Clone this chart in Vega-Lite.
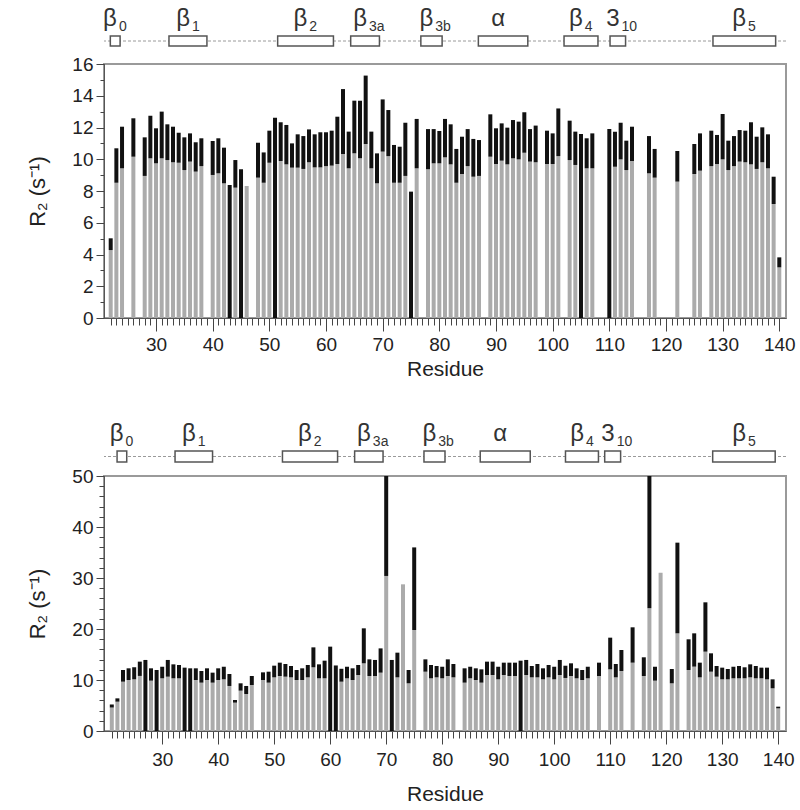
{
  "$schema": "https://vega.github.io/schema/vega-lite/v6.json",
  "padding": {"left": 25, "top": 6, "right": 0, "bottom": 0},
  "config": {
    "font": "Liberation Sans",
    "view": {"stroke": "#9a9a9a", "strokeWidth": 2},
    "axis": {"grid": false, "labelColor": "#222", "titleColor": "#222", "tickColor": "#444", "domainColor": "#555", "titleFontWeight": "normal", "labelFont": "Liberation Sans", "titleFont": "Liberation Sans"}
  },
  "datasets": {
    "ssTop": [
      {"name": "β", "sub": "0", "start": 22.8, "end": 24.5, "center": 23.6},
      {"name": "β", "sub": "1", "start": 33.0, "end": 39.6, "center": 36.3},
      {"name": "β", "sub": "2", "start": 51.9, "end": 61.6, "center": 56.7},
      {"name": "β", "sub": "3a", "start": 64.6, "end": 69.6, "center": 67.1},
      {"name": "β", "sub": "3b", "start": 76.8, "end": 80.5, "center": 78.6},
      {"name": "α", "sub": "", "start": 86.8, "end": 95.4, "center": 91.1},
      {"name": "β", "sub": "4", "start": 101.7, "end": 107.6, "center": 104.6},
      {"name": "3", "sub": "10", "start": 109.7, "end": 112.4, "center": 111.0},
      {"name": "β", "sub": "5", "start": 127.6, "end": 138.5, "center": 133.0}
    ],
    "ssBottom": [
      {"name": "β", "sub": "0", "start": 22.8, "end": 24.5, "center": 23.6},
      {"name": "β", "sub": "1", "start": 33.0, "end": 39.6, "center": 36.3},
      {"name": "β", "sub": "2", "start": 51.9, "end": 61.6, "center": 56.7},
      {"name": "β", "sub": "3a", "start": 64.6, "end": 69.6, "center": 67.1},
      {"name": "β", "sub": "3b", "start": 76.8, "end": 80.5, "center": 78.6},
      {"name": "α", "sub": "", "start": 86.7, "end": 95.5, "center": 91.1},
      {"name": "β", "sub": "4", "start": 101.7, "end": 107.5, "center": 104.6},
      {"name": "3", "sub": "10", "start": 108.6, "end": 111.4, "center": 110.0},
      {"name": "β", "sub": "5", "start": 127.6, "end": 138.6, "center": 133.1}
    ],
    "top": [
      {"residue": 22, "low": 4.28, "high": 5.02},
      {"residue": 23, "low": 8.52, "high": 10.69},
      {"residue": 24, "low": 9.43, "high": 12.05},
      {"residue": 26, "low": 10.16, "high": 12.58},
      {"residue": 28, "low": 8.95, "high": 11.38},
      {"residue": 29, "low": 10.06, "high": 12.74},
      {"residue": 30, "low": 9.74, "high": 11.95},
      {"residue": 31, "low": 10.06, "high": 13.0},
      {"residue": 32, "low": 9.95, "high": 12.2},
      {"residue": 33, "low": 9.81, "high": 12.05},
      {"residue": 34, "low": 9.78, "high": 11.67},
      {"residue": 35, "low": 9.32, "high": 11.38},
      {"residue": 36, "low": 9.85, "high": 11.63},
      {"residue": 37, "low": 9.22, "high": 11.07},
      {"residue": 38, "low": 9.57, "high": 11.32},
      {"residue": 40, "low": 9.01, "high": 11.15},
      {"residue": 41, "low": 9.11, "high": 11.32},
      {"residue": 42, "low": 8.48, "high": 10.73},
      {"residue": 43, "low": 0, "high": 8.38},
      {"residue": 44, "low": 8.21, "high": 9.95},
      {"residue": 45, "low": 0, "high": 9.37},
      {"residue": 46, "low": 8.31, "high": 8.31},
      {"residue": 48, "low": 8.84, "high": 11.04},
      {"residue": 49, "low": 8.52, "high": 10.43},
      {"residue": 50, "low": 9.78, "high": 11.8},
      {"residue": 51, "low": 0, "high": 12.62},
      {"residue": 52, "low": 9.89, "high": 12.33},
      {"residue": 53, "low": 9.68, "high": 12.16},
      {"residue": 54, "low": 9.47, "high": 11.0},
      {"residue": 55, "low": 9.47, "high": 11.57},
      {"residue": 56, "low": 9.39, "high": 11.46},
      {"residue": 57, "low": 9.81, "high": 11.88},
      {"residue": 58, "low": 9.49, "high": 11.57},
      {"residue": 59, "low": 9.49, "high": 11.7},
      {"residue": 60, "low": 9.57, "high": 11.7},
      {"residue": 61, "low": 9.6, "high": 11.8},
      {"residue": 62, "low": 9.7, "high": 12.68},
      {"residue": 63, "low": 10.33, "high": 14.42},
      {"residue": 64, "low": 9.43, "high": 11.74},
      {"residue": 65, "low": 10.37, "high": 13.69},
      {"residue": 66, "low": 10.06, "high": 13.69},
      {"residue": 67, "low": 10.96, "high": 15.27},
      {"residue": 68, "low": 9.43, "high": 11.74},
      {"residue": 69, "low": 8.48, "high": 10.37},
      {"residue": 70, "low": 10.48, "high": 13.77},
      {"residue": 71, "low": 10.2, "high": 13.1},
      {"residue": 72, "low": 8.52, "high": 10.9},
      {"residue": 73, "low": 8.52, "high": 10.79},
      {"residue": 74, "low": 8.95, "high": 12.3},
      {"residue": 75, "low": 0, "high": 7.96},
      {"residue": 76, "low": 9.43, "high": 12.54},
      {"residue": 78, "low": 9.37, "high": 11.9},
      {"residue": 79, "low": 9.74, "high": 11.9},
      {"residue": 80, "low": 9.74, "high": 11.78},
      {"residue": 81, "low": 10.12, "high": 12.54},
      {"residue": 82, "low": 9.68, "high": 12.2},
      {"residue": 83, "low": 8.52, "high": 10.65},
      {"residue": 84, "low": 9.07, "high": 11.42},
      {"residue": 85, "low": 9.57, "high": 11.9},
      {"residue": 86, "low": 8.9, "high": 11.28},
      {"residue": 87, "low": 8.95, "high": 11.21},
      {"residue": 89, "low": 10.16, "high": 12.83},
      {"residue": 90, "low": 9.7, "high": 11.95},
      {"residue": 91, "low": 9.91, "high": 12.26},
      {"residue": 92, "low": 9.68, "high": 11.99},
      {"residue": 93, "low": 10.06, "high": 12.47},
      {"residue": 94, "low": 9.99, "high": 12.37},
      {"residue": 95, "low": 10.41, "high": 12.96},
      {"residue": 96, "low": 9.85, "high": 11.9},
      {"residue": 97, "low": 9.81, "high": 12.12},
      {"residue": 99, "low": 9.7, "high": 11.8},
      {"residue": 100, "low": 9.7, "high": 11.63},
      {"residue": 101, "low": 10.2, "high": 13.2},
      {"residue": 103, "low": 9.95, "high": 12.43},
      {"residue": 104, "low": 9.64, "high": 11.74},
      {"residue": 105, "low": 0, "high": 11.59},
      {"residue": 106, "low": 9.43, "high": 11.32},
      {"residue": 107, "low": 9.43, "high": 11.63},
      {"residue": 110, "low": 0, "high": 11.9},
      {"residue": 111, "low": 9.53, "high": 11.74},
      {"residue": 112, "low": 9.99, "high": 12.3},
      {"residue": 113, "low": 9.32, "high": 11.17},
      {"residue": 114, "low": 9.89, "high": 12.05},
      {"residue": 117, "low": 9.11, "high": 11.46},
      {"residue": 118, "low": 8.84, "high": 10.65},
      {"residue": 122, "low": 8.59, "high": 10.52},
      {"residue": 125, "low": 9.07, "high": 10.96},
      {"residue": 126, "low": 9.28, "high": 11.63},
      {"residue": 128, "low": 9.57, "high": 11.8},
      {"residue": 129, "low": 9.7, "high": 11.53},
      {"residue": 130, "low": 9.99, "high": 12.85},
      {"residue": 131, "low": 9.32, "high": 11.17},
      {"residue": 132, "low": 9.57, "high": 11.46},
      {"residue": 133, "low": 9.85, "high": 11.84},
      {"residue": 134, "low": 9.81, "high": 11.8},
      {"residue": 135, "low": 9.68, "high": 12.33},
      {"residue": 136, "low": 9.39, "high": 11.42},
      {"residue": 137, "low": 9.81, "high": 12.01},
      {"residue": 138, "low": 9.43, "high": 11.57},
      {"residue": 139, "low": 7.18, "high": 8.9},
      {"residue": 140, "low": 3.19, "high": 3.82}
    ],
    "bottom": [
      {"residue": 21, "low": 4.6, "high": 5.2},
      {"residue": 22, "low": 5.75, "high": 6.4},
      {"residue": 23, "low": 9.67, "high": 11.96},
      {"residue": 24, "low": 10.0, "high": 12.29},
      {"residue": 25, "low": 10.13, "high": 12.5},
      {"residue": 26, "low": 10.8, "high": 13.6},
      {"residue": 27, "low": 0, "high": 13.93},
      {"residue": 28, "low": 9.87, "high": 12.29},
      {"residue": 29, "low": 0, "high": 11.96},
      {"residue": 30, "low": 10.33, "high": 12.6},
      {"residue": 31, "low": 10.65, "high": 13.93},
      {"residue": 32, "low": 10.33, "high": 13.07},
      {"residue": 33, "low": 10.33, "high": 12.94},
      {"residue": 34, "low": 0, "high": 12.42},
      {"residue": 35, "low": 0, "high": 12.29},
      {"residue": 36, "low": 10.0, "high": 12.29},
      {"residue": 37, "low": 9.48, "high": 11.77},
      {"residue": 38, "low": 10.0, "high": 12.29},
      {"residue": 39, "low": 9.48, "high": 11.44},
      {"residue": 40, "low": 10.0, "high": 12.29},
      {"residue": 41, "low": 10.13, "high": 12.6},
      {"residue": 42, "low": 8.83, "high": 11.18},
      {"residue": 43, "low": 5.56, "high": 6.08},
      {"residue": 44, "low": 7.91, "high": 9.35},
      {"residue": 45, "low": 7.26, "high": 8.83},
      {"residue": 46, "low": 9.02, "high": 10.79},
      {"residue": 48, "low": 10.0, "high": 11.5},
      {"residue": 49, "low": 9.48, "high": 11.63},
      {"residue": 50, "low": 10.52, "high": 12.81},
      {"residue": 51, "low": 10.78, "high": 13.4},
      {"residue": 52, "low": 10.65, "high": 13.14},
      {"residue": 53, "low": 10.52, "high": 12.75},
      {"residue": 54, "low": 10.0, "high": 11.96},
      {"residue": 55, "low": 10.0, "high": 12.29},
      {"residue": 56, "low": 10.52, "high": 12.94},
      {"residue": 57, "low": 12.49, "high": 16.4},
      {"residue": 58, "low": 10.33, "high": 13.07},
      {"residue": 59, "low": 10.33, "high": 13.79},
      {"residue": 60, "low": 0, "high": 16.54},
      {"residue": 61, "low": 0, "high": 12.85},
      {"residue": 62, "low": 9.67, "high": 12.2},
      {"residue": 63, "low": 10.33, "high": 12.6},
      {"residue": 64, "low": 10.0, "high": 12.29},
      {"residue": 65, "low": 10.98, "high": 12.94},
      {"residue": 66, "low": 13.27, "high": 20.13},
      {"residue": 67, "low": 10.78, "high": 14.05},
      {"residue": 68, "low": 10.78, "high": 13.93},
      {"residue": 69, "low": 11.44, "high": 16.2},
      {"residue": 70, "low": 30.4, "high": 50},
      {"residue": 71, "low": 0, "high": 13.93},
      {"residue": 72, "low": 10.52, "high": 15.36},
      {"residue": 73, "low": 28.76, "high": 28.76},
      {"residue": 74, "low": 9.35, "high": 11.96},
      {"residue": 75, "low": 19.8, "high": 36.0},
      {"residue": 77, "low": 11.63, "high": 14.05},
      {"residue": 78, "low": 10.33, "high": 12.94},
      {"residue": 79, "low": 10.52, "high": 12.75},
      {"residue": 80, "low": 10.33, "high": 12.6},
      {"residue": 81, "low": 10.78, "high": 14.05},
      {"residue": 82, "low": 10.52, "high": 13.14},
      {"residue": 84, "low": 9.48, "high": 12.29},
      {"residue": 85, "low": 10.33, "high": 12.6},
      {"residue": 86, "low": 10.0, "high": 12.29},
      {"residue": 87, "low": 9.48, "high": 12.09},
      {"residue": 88, "low": 10.98, "high": 13.6},
      {"residue": 89, "low": 10.98, "high": 13.6},
      {"residue": 90, "low": 10.13, "high": 12.6},
      {"residue": 91, "low": 10.98, "high": 13.4},
      {"residue": 92, "low": 10.78, "high": 13.4},
      {"residue": 93, "low": 10.78, "high": 13.4},
      {"residue": 94, "low": 0, "high": 13.79},
      {"residue": 95, "low": 10.98, "high": 13.93},
      {"residue": 96, "low": 10.52, "high": 12.75},
      {"residue": 97, "low": 10.52, "high": 13.14},
      {"residue": 98, "low": 10.13, "high": 12.29},
      {"residue": 99, "low": 10.52, "high": 12.94},
      {"residue": 100, "low": 10.13, "high": 12.6},
      {"residue": 101, "low": 10.98, "high": 13.93},
      {"residue": 102, "low": 10.4, "high": 12.8},
      {"residue": 103, "low": 10.78, "high": 13.27},
      {"residue": 104, "low": 10.33, "high": 12.29},
      {"residue": 105, "low": 10.0, "high": 11.96},
      {"residue": 106, "low": 10.33, "high": 12.6},
      {"residue": 108, "low": 10.78, "high": 13.4},
      {"residue": 110, "low": 12.09, "high": 18.3},
      {"residue": 111, "low": 10.52, "high": 13.14},
      {"residue": 112, "low": 11.77, "high": 15.88},
      {"residue": 114, "low": 13.4, "high": 20.33},
      {"residue": 116, "low": 10.78, "high": 14.45},
      {"residue": 117, "low": 24.05, "high": 50},
      {"residue": 118, "low": 9.87, "high": 12.6},
      {"residue": 119, "low": 31.05, "high": 31.05},
      {"residue": 121, "low": 9.35, "high": 12.16},
      {"residue": 122, "low": 19.15, "high": 36.93},
      {"residue": 124, "low": 11.96, "high": 17.98},
      {"residue": 125, "low": 12.62, "high": 19.15},
      {"residue": 126, "low": 10.52, "high": 13.4},
      {"residue": 127, "low": 15.56, "high": 25.23},
      {"residue": 128, "low": 11.63, "high": 15.23},
      {"residue": 129, "low": 10.65, "high": 12.75},
      {"residue": 130, "low": 10.13, "high": 12.42},
      {"residue": 131, "low": 10.13, "high": 12.16},
      {"residue": 132, "low": 10.33, "high": 12.6},
      {"residue": 133, "low": 10.33, "high": 12.75},
      {"residue": 134, "low": 10.33, "high": 12.49},
      {"residue": 135, "low": 10.52, "high": 13.07},
      {"residue": 136, "low": 10.33, "high": 12.75},
      {"residue": 137, "low": 10.33, "high": 12.42},
      {"residue": 138, "low": 10.13, "high": 12.42},
      {"residue": 139, "low": 8.37, "high": 10.13},
      {"residue": 140, "low": 4.44, "high": 4.77}
    ]
  },
  "spacing": 33,
  "vconcat": [
    {
      "spacing": 0,
      "bounds": "flush",
      "vconcat": [
        {
          "width": 682, "height": 58,
          "view": {"stroke": null},
          "layer": [
            {
              "data": {"values": [{"line": "coil"}]},
              "mark": {"type": "rule", "color": "#9a9a9a", "strokeDash": [3, 2], "strokeWidth": 1},
              "encoding": {"y": {"datum": 23, "type": "quantitative", "scale": {"domain": [0, 58], "nice": false}, "axis": null}}
            },
            {
              "data": {"name": "ssTop"},
              "mark": {"type": "rect", "fill": "white", "stroke": "#555", "strokeWidth": 1.5},
              "encoding": {
                "x": {"field": "start", "type": "quantitative", "scale": {"domain": [21.7, 140.3], "nice": false, "zero": false}, "axis": null},
                "x2": {"field": "end"},
                "y": {"datum": 18, "type": "quantitative"},
                "y2": {"datum": 28}
              }
            },
            {
              "data": {"name": "ssTop"},
              "mark": {"type": "text", "align": "right", "baseline": "alphabetic", "dx": 2, "fontSize": 24, "color": "#333"},
              "encoding": {
                "x": {"field": "center", "type": "quantitative"},
                "y": {"datum": 38.5, "type": "quantitative"},
                "text": {"field": "name"}
              }
            },
            {
              "data": {"name": "ssTop"},
              "mark": {"type": "text", "align": "left", "baseline": "alphabetic", "dx": 4, "fontSize": 14, "color": "#333"},
              "encoding": {
                "x": {"field": "center", "type": "quantitative"},
                "y": {"datum": 33, "type": "quantitative"},
                "text": {"field": "sub"}
              }
            }
          ]
        },
        {
          "width": 682, "height": 254,
          "data": {"name": "top"},
          "layer": [
            {
              "mark": {"type": "bar", "color": "#ababab", "size": 4, "clip": true},
              "encoding": {
                "x": {"field": "residue", "type": "quantitative", "scale": {"domain": [21.7, 140.3], "nice": false, "zero": false},
                  "axis": {"orient": "bottom", "values": [22,23,24,25,26,27,28,29,30,31,32,33,34,35,36,37,38,39,40,41,42,43,44,45,46,47,48,49,50,51,52,53,54,55,56,57,58,59,60,61,62,63,64,65,66,67,68,69,70,71,72,73,74,75,76,77,78,79,80,81,82,83,84,85,86,87,88,89,90,91,92,93,94,95,96,97,98,99,100,101,102,103,104,105,106,107,108,109,110,111,112,113,114,115,116,117,118,119,120,121,122,123,124,125,126,127,128,129,130,131,132,133,134,135,136,137,138,139,140], "tickSize": 7, "labels": false, "domain": false, "title": null}},
                "y": {"field": "low", "type": "quantitative", "scale": {"domain": [0, 16], "nice": false},
                  "axis": {"orient": "left", "values": [0,1,2,3,4,5,6,7,8,9,10,11,12,13,14,15,16], "tickSize": 4, "labels": false, "domain": false, "title": null}}
              }
            },
            {
              "mark": {"type": "bar", "color": "#111111", "size": 4, "clip": true},
              "encoding": {
                "x": {"field": "residue", "type": "quantitative",
                  "axis": {"orient": "bottom", "values": [30,40,50,60,70,80,90,100,110,120,130,140], "tickSize": 13, "labelFontSize": 19, "labelPadding": 4, "labelFlush": false, "labelOverlap": false, "title": "Residue", "titleFontSize": 21, "titlePadding": 4}},
                "y": {"field": "low", "type": "quantitative",
                  "axis": {"orient": "left", "values": [0,2,4,6,8,10,12,14,16], "tickSize": 8, "labelFontSize": 19, "labelPadding": 3, "title": "R₂ (s⁻¹)", "titleFontSize": 22, "titlePadding": 22}},
                "y2": {"field": "high"}
              }
            }
          ],
          "resolve": {"axis": {"x": "independent", "y": "independent"}}
        }
      ]
    },
    {
      "spacing": 0,
      "bounds": "flush",
      "vconcat": [
        {
          "width": 682, "height": 63,
          "view": {"stroke": null},
          "layer": [
            {
              "data": {"values": [{"line": "coil"}]},
              "mark": {"type": "rule", "color": "#9a9a9a", "strokeDash": [3, 2], "strokeWidth": 1},
              "encoding": {"y": {"datum": 19.5, "type": "quantitative", "scale": {"domain": [0, 63], "nice": false}, "axis": null}}
            },
            {
              "data": {"name": "ssBottom"},
              "mark": {"type": "rect", "fill": "white", "stroke": "#555", "strokeWidth": 1.5},
              "encoding": {
                "x": {"field": "start", "type": "quantitative", "scale": {"domain": [20.5, 140.5], "nice": false, "zero": false}, "axis": null},
                "x2": {"field": "end"},
                "y": {"datum": 14, "type": "quantitative"},
                "y2": {"datum": 25}
              }
            },
            {
              "data": {"name": "ssBottom"},
              "mark": {"type": "text", "align": "right", "baseline": "alphabetic", "dx": 2, "fontSize": 24, "color": "#333"},
              "encoding": {
                "x": {"field": "center", "type": "quantitative"},
                "y": {"datum": 35.4, "type": "quantitative"},
                "text": {"field": "name"}
              }
            },
            {
              "data": {"name": "ssBottom"},
              "mark": {"type": "text", "align": "left", "baseline": "alphabetic", "dx": 4, "fontSize": 14, "color": "#333"},
              "encoding": {
                "x": {"field": "center", "type": "quantitative"},
                "y": {"datum": 30, "type": "quantitative"},
                "text": {"field": "sub"}
              }
            }
          ]
        },
        {
          "width": 682, "height": 255,
          "data": {"name": "bottom"},
          "layer": [
            {
              "mark": {"type": "bar", "color": "#ababab", "size": 4, "clip": true},
              "encoding": {
                "x": {"field": "residue", "type": "quantitative", "scale": {"domain": [20.5, 140.5], "nice": false, "zero": false},
                  "axis": {"orient": "bottom", "values": [21,22,23,24,25,26,27,28,29,30,31,32,33,34,35,36,37,38,39,40,41,42,43,44,45,46,47,48,49,50,51,52,53,54,55,56,57,58,59,60,61,62,63,64,65,66,67,68,69,70,71,72,73,74,75,76,77,78,79,80,81,82,83,84,85,86,87,88,89,90,91,92,93,94,95,96,97,98,99,100,101,102,103,104,105,106,107,108,109,110,111,112,113,114,115,116,117,118,119,120,121,122,123,124,125,126,127,128,129,130,131,132,133,134,135,136,137,138,139,140], "tickSize": 7, "labels": false, "domain": false, "title": null}},
                "y": {"field": "low", "type": "quantitative", "scale": {"domain": [0, 50], "nice": false},
                  "axis": {"orient": "left", "values": [0,2,4,6,8,10,12,14,16,18,20,22,24,26,28,30,32,34,36,38,40,42,44,46,48,50], "tickSize": 5, "labels": false, "domain": false, "title": null}}
              }
            },
            {
              "mark": {"type": "bar", "color": "#111111", "size": 4, "clip": true},
              "encoding": {
                "x": {"field": "residue", "type": "quantitative",
                  "axis": {"orient": "bottom", "values": [30,40,50,60,70,80,90,100,110,120,130,140], "tickSize": 13, "labelFontSize": 19, "labelPadding": 6, "labelFlush": false, "labelOverlap": false, "title": "Residue", "titleFontSize": 21, "titlePadding": 14}},
                "y": {"field": "low", "type": "quantitative",
                  "axis": {"orient": "left", "values": [0,10,20,30,40,50], "tickSize": 8, "labelFontSize": 19, "labelPadding": 3, "title": "R₂ (s⁻¹)", "titleFontSize": 22, "titlePadding": 22}},
                "y2": {"field": "high"}
              }
            }
          ],
          "resolve": {"axis": {"x": "independent", "y": "independent"}}
        }
      ]
    }
  ]
}
